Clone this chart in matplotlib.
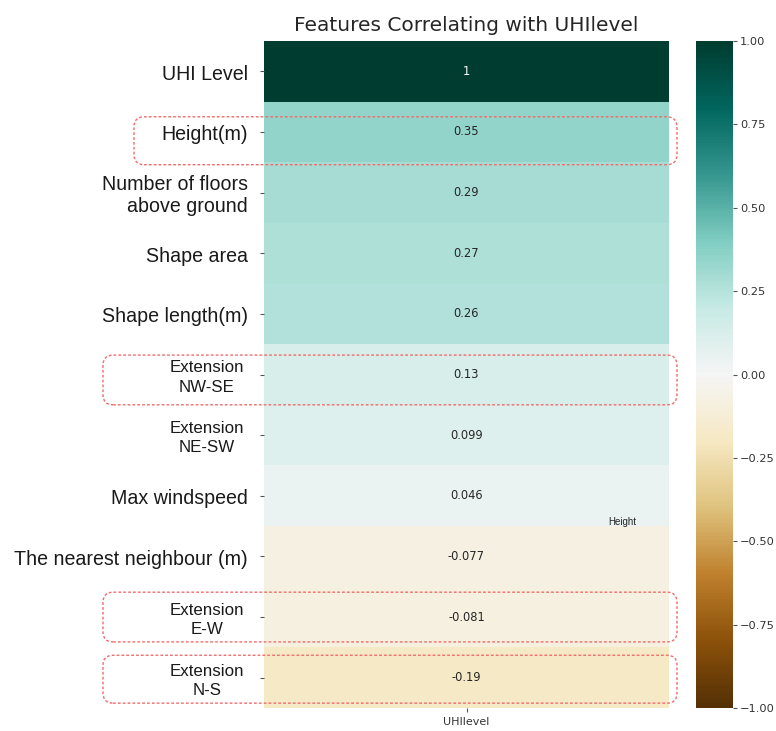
import numpy as np
import pandas as pd
import matplotlib
matplotlib.use("Agg")
import matplotlib.pyplot as plt
import matplotlib.transforms as mtransforms
from matplotlib.patches import FancyBboxPatch
import seaborn as sns

# Correlation of each feature with UHIlevel
features = ["UHI Level", "Height(m)", "Number of floors\nabove ground", "Shape area",
            "Shape length(m)", "Extension\nNW-SE", "Extension\nNE-SW", "Max windspeed",
            "The nearest neighbour (m)", "Extension\nE-W", "Extension\nN-S"]
corr_values = [1.0, 0.35, 0.29, 0.27, 0.26, 0.13, 0.099, 0.046, -0.077, -0.081, -0.19]
column_name = "UHIlevel"
highlighted_rows = ["Height(m)", "Extension\nNW-SE", "Extension\nE-W", "Extension\nN-S"]

df = pd.DataFrame({column_name: corr_values}, index=features)

W, H = 776, 731
fig = plt.figure(figsize=(W / 100, H / 100), dpi=100)
ax = fig.add_axes([264 / W, 1 - 708 / H, (669 - 264) / W, (708 - 41) / H])
cax = fig.add_axes([696 / W, 1 - 708 / H, (733 - 696) / W, (708 - 41) / H])

sns.heatmap(df, ax=ax, cbar_ax=cax, vmin=-1, vmax=1, cmap="BrBG", annot=True,
            annot_kws={"fontsize": 8.3})

ax.set_title("Features Correlating with UHIlevel", fontsize=14.5, pad=7, color="#262626")

# y ticks stay as short marks; the feature names are drawn as separate text
ax.set_yticks(np.arange(len(features)) + 0.5)
ax.tick_params(axis="y", length=3, color="#555555", labelleft=False)
ax.tick_params(axis="x", length=3, labelsize=8, color="#555555", labelcolor="#333333")

label_tf = mtransforms.blended_transform_factory(ax.transAxes, ax.transData)
for i, name in enumerate(features):
    small = name.startswith("Extension")
    dx = -20 if small else -16
    tf = label_tf + mtransforms.ScaledTranslation(dx / 100, -3 / 100, fig.dpi_scale_trans)
    ax.text(0, i + 0.5, name, transform=tf, ha="right", va="center",
            multialignment="center" if small else "right",
            fontsize=12.2 if small else 14.1, linespacing=1.35 if small else 1.2,
            family=["Liberation Sans", "DejaVu Sans"], color="#1a1a1a", clip_on=False)

cax.tick_params(labelsize=8.2, length=3, pad=2, color="#555555", labelcolor="#333333")
cbar = ax.collections[0].colorbar
cbar.set_ticks([-1, -0.75, -0.5, -0.25, 0, 0.25, 0.5, 0.75, 1])
cbar.outline.set_visible(False)

# small stray label inside the heatmap
ax.text(0.885, 7.93, "Height", transform=label_tf,
        fontsize=7, family=["Liberation Sans", "DejaVu Sans"], color="#222222",
        ha="center", va="center")

# dashed rounded highlight boxes around selected rows (left edge in px, top/bottom in row units)
box_extent = {"Height(m)": (134, 1.25, 2.04),
              "Extension\nNW-SE": (103, 5.18, 6.0),
              "Extension\nE-W": (103, 9.09, 9.91),
              "Extension\nN-S": (103, 10.13, 10.92)}
to_fig = ax.transData + fig.transFigure.inverted()
for name in highlighted_rows:
    x0, ytop, ybot = box_extent[name]
    fy_top = to_fig.transform((0, ytop))[1]
    fy_bot = to_fig.transform((0, ybot))[1]
    patch = FancyBboxPatch((x0 / W, fy_bot), (677 - x0) / W, fy_top - fy_bot,
                           boxstyle=f"round,pad=0,rounding_size={10 / W}",
                           mutation_aspect=W / H, transform=fig.transFigure,
                           fill=False, edgecolor="#f26b6b",
                           linestyle=(0, (2, 1.5)), linewidth=1.0, clip_on=False)
    fig.add_artist(patch)

fig.savefig("out.png", dpi=100, facecolor="white")
